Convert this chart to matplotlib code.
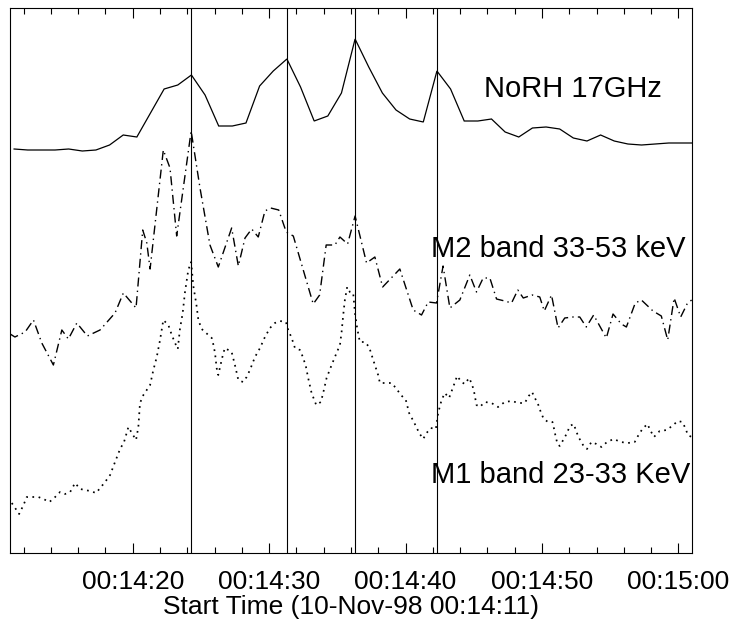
import matplotlib
matplotlib.use("Agg")
import matplotlib.pyplot as plt
from matplotlib.ticker import MultipleLocator, FuncFormatter
import numpy as np

plt.rcParams['font.family'] = ['Liberation Sans', 'DejaVu Sans']

# ---- data (seconds after 00:14:00, arbitrary intensity units) ----
norh_t = [11.3, 12.3, 13.3, 14.3, 15.3, 16.3, 17.3, 18.3, 19.3, 20.3,
          21.3, 22.3, 23.3, 24.3, 25.3, 26.3, 27.3, 28.3, 29.3, 30.3,
          31.3, 32.3, 33.3, 34.3, 35.3, 36.3, 37.3, 38.3, 39.3, 40.3,
          41.3, 42.3, 43.3, 44.3, 45.3, 46.3, 47.3, 48.3, 49.3, 50.3,
          51.3, 52.3, 53.3, 54.3, 55.3, 56.3, 57.3, 58.3, 59.3, 60.3, 61.3]
norh_v = [404, 403, 403, 403, 404, 402, 403, 408, 418, 416,
          440, 464, 468, 478, 458, 427, 427, 430, 467, 482,
          494, 466, 432, 437, 460, 514, 486, 460, 443, 434,
          431, 482, 464, 432, 432, 434, 421, 416, 425, 426,
          424, 415, 412, 418, 412, 409, 408, 409, 410, 410, 410]

m2_t = [11.01, 11.36, 12.11, 12.72, 13.33, 14.18, 14.80, 15.28, 15.90, 16.67,
        17.60, 18.70, 19.31, 20.24, 20.73, 21.03, 21.27, 22.24, 22.73, 23.22,
        24.28, 24.93, 25.66, 26.27, 27.25, 27.74, 28.23, 28.72, 29.20, 29.69,
        30.11, 30.70, 31.25, 31.77, 33.23, 33.70, 34.18, 34.82, 35.19, 35.75,
        36.30, 37.14, 37.75, 38.32, 39.58, 40.56, 41.17, 41.66, 42.27, 42.75,
        43.25, 43.98, 44.71, 45.20, 45.69, 46.18, 46.67, 47.27, 47.77, 48.23,
        48.63, 49.29, 49.84, 50.17, 50.70, 51.18, 51.67, 52.28, 52.77, 53.25,
        53.79, 54.72, 55.21, 55.82, 56.19, 56.84, 57.29, 58.14, 58.75, 59.22,
        59.69, 60.17, 60.64, 60.97]
m2_v = [219, 216, 221, 233, 210, 188, 223, 214, 230, 217,
        223, 240, 260, 245, 323, 310, 284, 403, 385, 317,
        422, 365, 308, 286, 325, 287, 315, 324, 316, 342,
        345, 343, 321, 317, 249, 258, 308, 308, 316, 309,
        337, 290, 296, 266, 284, 243, 238, 251, 250, 287,
        245, 253, 278, 261, 275, 275, 254, 252, 250, 263,
        255, 258, 256, 242, 258, 225, 235, 236, 236, 226,
        238, 215, 239, 229, 226, 250, 253, 242, 237, 213,
        255, 236, 249, 253]

m1_t = [11.13, 11.67, 11.99, 12.23, 13.08, 13.45, 13.89, 14.31, 14.67, 15.04,
        15.41, 15.77, 16.14, 16.87, 17.31, 17.97, 18.34, 18.70, 19.07, 19.36,
        19.68, 19.93, 20.24, 20.41, 20.53, 20.78, 21.27, 21.51, 21.76, 22.00,
        22.24, 22.61, 22.86, 23.10, 23.30, 23.46, 23.66, 23.83, 24.07, 24.28,
        24.44, 24.66, 24.81, 25.05, 25.54, 25.79, 25.90, 26.03, 26.15, 26.27,
        26.40, 26.64, 26.76, 27.25, 27.49, 27.74, 28.08, 28.35, 28.59, 28.96,
        29.33, 29.69, 30.06, 30.42, 30.79, 31.23, 31.40, 31.65, 31.89, 32.26,
        32.50, 32.70, 32.86, 33.11, 33.45, 33.79, 33.96, 34.21, 34.58, 34.94,
        35.19, 35.31, 35.43, 35.55, 35.72, 35.92, 36.16, 36.29, 36.45, 36.65,
        37.02, 37.33, 37.63, 37.99, 38.12, 38.61, 38.97, 39.29, 39.66, 40.02,
        40.26, 40.61, 41.00, 41.29, 41.54, 41.85, 42.22, 42.39, 42.64, 42.88,
        43.19, 43.49, 43.78, 44.10, 44.34, 44.66, 44.83, 45.00, 45.20, 45.44,
        45.81, 46.30, 46.78, 47.27, 47.77, 48.30, 48.74, 49.03, 49.27, 49.52,
        49.77, 49.91, 50.13, 50.45, 50.77, 50.89, 51.01, 51.14, 51.30, 51.60,
        51.84, 52.04, 52.33, 52.53, 52.72, 53.01, 53.30, 53.63, 53.99, 54.36,
        54.77, 55.26, 55.77, 56.31, 56.80, 57.04, 57.36, 57.73, 57.97, 58.21,
        58.63, 59.16, 59.53, 59.97, 60.29, 60.51, 60.70, 60.97]
m1_v = [50, 39, 48, 56, 56, 54, 51, 56, 61, 59,
        61, 70, 64, 62, 60, 71, 78, 91, 104, 111,
        126, 120, 113, 126, 150, 158, 168, 183, 196, 213,
        233, 228, 218, 210, 204, 224, 240, 261, 283, 291,
        267, 249, 233, 224, 218, 215, 209, 200, 185, 178,
        186, 200, 205, 201, 188, 173, 171, 176, 183, 196,
        205, 216, 225, 230, 232, 231, 223, 215, 205, 203,
        195, 186, 175, 160, 148, 151, 160, 175, 188, 200,
        208, 221, 238, 253, 266, 261, 260, 240, 225, 211,
        211, 206, 193, 178, 170, 170, 170, 165, 158, 153,
        140, 131, 120, 114, 120, 125, 124, 140, 153, 160,
        155, 166, 177, 171, 169, 175, 170, 163, 148, 146,
        151, 150, 146, 151, 152, 150, 150, 157, 161, 154,
        147, 141, 134, 131, 131, 124, 116, 109, 107, 114,
        120, 127, 129, 121, 115, 108, 104, 111, 109, 106,
        111, 114, 111, 110, 111, 117, 124, 129, 122, 116,
        122, 123, 127, 132, 131, 125, 118, 116]

peak_times = [24.3, 31.3, 36.3, 42.3]

labels = ["NoRH 17GHz", "M2 band 33-53 keV", "M1 band 23-33 KeV"]
xlabel = "Start Time (10-Nov-98 00:14:11)"

# ---- figure ----
W, H = 733, 624
fig = plt.figure(figsize=(W / 100, H / 100), dpi=100)
ax = fig.add_axes([10 / W, 71 / H, 682 / W, 545 / H])

lw = 0.9
ax.plot(norh_t, norh_v, color='black', lw=lw, solid_joinstyle='miter')
ax.plot(m2_t, m2_v, color='black', lw=1.0, dashes=(6.5, 3, 1, 3))
ax.plot(m1_t, m1_v, color='black', lw=1.25, dashes=(1, 2.6),
        dash_capstyle='butt')

for t in peak_times:
    ax.axvline(t, color='black', lw=0.8)

ax.set_xlim(11, 61)
ax.set_ylim(0, 545)

ax.xaxis.set_major_locator(MultipleLocator(10))
ax.xaxis.set_minor_locator(MultipleLocator(2))
ax.xaxis.set_major_formatter(FuncFormatter(
    lambda s, p: f"00:{14 + int(round(s)) // 60:02d}:{int(round(s)) % 60:02d}"))
ax.tick_params(axis='x', which='both', direction='in', top=True, bottom=True,
               labelsize=19, width=0.8, pad=12)
ax.tick_params(axis='x', which='major', length=7.5)
ax.tick_params(axis='x', which='minor', length=4)
ax.set_yticks([])
for s in ax.spines.values():
    s.set_linewidth(0.8)

ax.set_xlabel(xlabel, fontsize=19, labelpad=1)

tfs = 21
ax.text(0.695, 0.836, labels[0], transform=ax.transAxes, fontsize=tfs,
        ha='left', va='baseline')
ax.text(0.618, 0.5437, labels[1], transform=ax.transAxes, fontsize=tfs,
        ha='left', va='baseline')
ax.text(0.618, 0.129, labels[2], transform=ax.transAxes, fontsize=tfs,
        ha='left', va='baseline')

fig.savefig("out.png", dpi=100)
